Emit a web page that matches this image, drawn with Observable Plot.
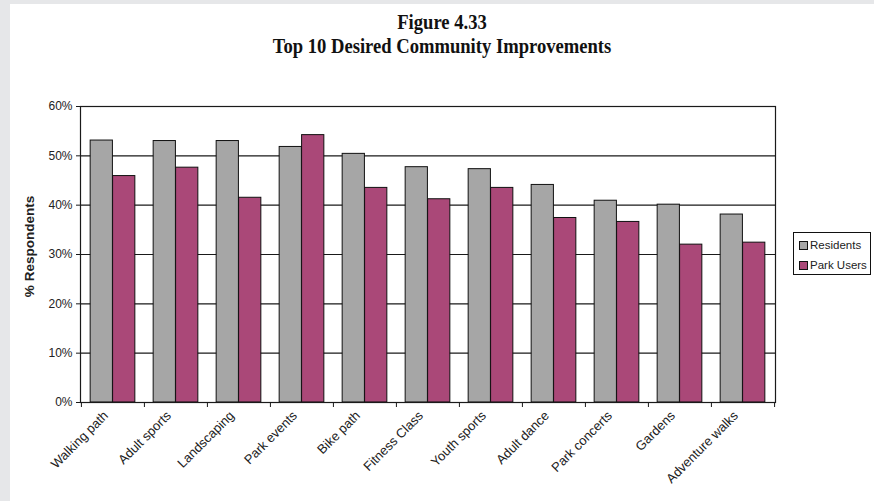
<!DOCTYPE html>
<html>
<head>
<meta charset="utf-8">
<script src="https://cdn.jsdelivr.net/npm/d3@7"></script>
<script src="https://cdn.jsdelivr.net/npm/@observablehq/plot@0.6"></script>
<style>
  html, body { margin: 0; padding: 0; background: #e6e7e9; }
  #page {
    position: absolute; left: 10px; top: 4px; width: 864px; height: 497px;
    background: #fff; overflow: hidden;
    font-family: "Liberation Sans", Arial, sans-serif;
  }
  #title {
    position: relative; height: 56px; text-align: center;
    font-family: "Liberation Serif", "Times New Roman", serif;
    font-weight: bold; color: #111;
  }
  #title div { position: absolute; left: 0; right: 0; font-size: 18.6px; line-height: 24px; transform: scaleY(1.12); }
  #title .l1 { top: 6px; }
  #title .l2 { top: 30px; }
  #legend {
    position: absolute; left: 783px; top: 228px; width: 78px; height: 43px;
    border: 1px solid #111; box-sizing: border-box; background: #fff;
    font-size: 11.5px; color: #222;
  }
  #legend .item { position: absolute; left: 5px; display: flex; align-items: center; gap: 2px; line-height: 14px; }
  #legend .sw { width: 7px; height: 7px; border: 1px solid #111; }
  svg text { fill: #222; }
</style>
</head>
<body>
<div id="page">
  <div id="title">
    <div class="l1">Figure 4.33</div>
    <div class="l2">Top 10 Desired Community Improvements</div>
  </div>
  <div id="chart"></div>
  <div id="legend"></div>
</div>
<script>
// Improvement categories, left to right
const categories = [
  "Walking path", "Adult sports", "Landscaping", "Park events", "Bike path",
  "Fitness Class", "Youth sports", "Adult dance", "Park concerts", "Gardens",
  "Adventure walks"
];
// Series names
const seriesNames = ["Residents", "Park Users"];
// % of respondents per category
const residents = [53.1, 53.0, 53.0, 51.8, 50.4, 47.7, 47.3, 44.1, 40.9, 40.1, 38.1];
const parkUsers = [45.9, 47.6, 41.5, 54.2, 43.5, 41.2, 43.5, 37.4, 36.6, 32.0, 32.4];
// Y axis ticks (percent)
const yTicks = [0, 10, 20, 30, 40, 50, 60];

const colors = { "Residents": "#a6a6a6", "Park Users": "#aa4878" };

const rows = [];
categories.forEach((c, i) => {
  rows.push({ category: c, series: "Residents", value: residents[i] });
  rows.push({ category: c, series: "Park Users", value: parkUsers[i] });
});

const width = 864, height = 441;
const marginLeft = 70, marginRight = 99, marginTop = 46, marginBottom = 99;
const step = (width - marginLeft - marginRight) / categories.length;
const gap = 0.145 * step;      // white space at each side of a group
const barW = 0.355 * step;     // width of one bar

const inset = {
  "Residents": { insetLeft: gap, insetRight: step - gap - barW },
  "Park Users": { insetLeft: gap + barW, insetRight: gap }
};

const barMarks = seriesNames.map(s => Plot.barY(rows.filter(d => d.series === s), {
  x: "category", y: "value",
  fill: colors[s], stroke: "#111", strokeWidth: 1,
  ...inset[s]
}));

const chart = Plot.plot({
  width, height, marginLeft, marginRight, marginTop, marginBottom,
  style: { fontFamily: "Liberation Sans, Arial, sans-serif", fontSize: "12px", background: "transparent" },
  x: { domain: categories, padding: 0, axis: null },
  y: { domain: [0, 60], axis: null },
  marks: [
    Plot.gridY(yTicks.slice(1, -1), { stroke: "#1a1a1a", strokeOpacity: 1, strokeWidth: 1.2 }),
    ...barMarks,
    Plot.frame({ stroke: "#1a1a1a", strokeWidth: 1.2 }),
    Plot.axisY(yTicks, {
      tickSize: 4, tickPadding: 4, tickFormat: d => d + "%",
      stroke: "#1a1a1a", fontSize: 12,
      label: "% Respondents", labelAnchor: "center", labelOffset: 56
    }),
    // category labels
    Plot.axisX(categories, {
      tickSize: 0, tickPadding: 11, tickRotate: -45, dx: -7, fontSize: 13, label: null
    }),
    // tick marks on the category boundaries
    Plot.axisX(categories, { tickSize: 5, tickFormat: () => "", dx: -step / 2, stroke: "#1a1a1a", label: null }),
    Plot.axisX(categories.slice(-1), { tickSize: 5, tickFormat: () => "", dx: step / 2, stroke: "#1a1a1a", label: null })
  ]
});
document.getElementById("chart").append(chart);

// y-axis title: bold, no arrow, raised slightly
d3.select(chart).selectAll("text").filter(function () {
  return this.textContent.includes("Respondents");
}).each(function () {
  this.textContent = this.textContent.replace(/[\u2190-\u21FF]/g, "").trim();
}).attr("dx", 8).style("font-weight", "bold").style("font-size", "13.5px");

// legend
const legend = d3.select("#legend");
seriesNames.forEach((s, i) => {
  const item = legend.append("div").attr("class", "item").style("top", (i === 0 ? 5 : 25) + "px");
  item.append("div").attr("class", "sw").style("background", colors[s]);
  item.append("span").text(s);
});
</script>
</body>
</html>
